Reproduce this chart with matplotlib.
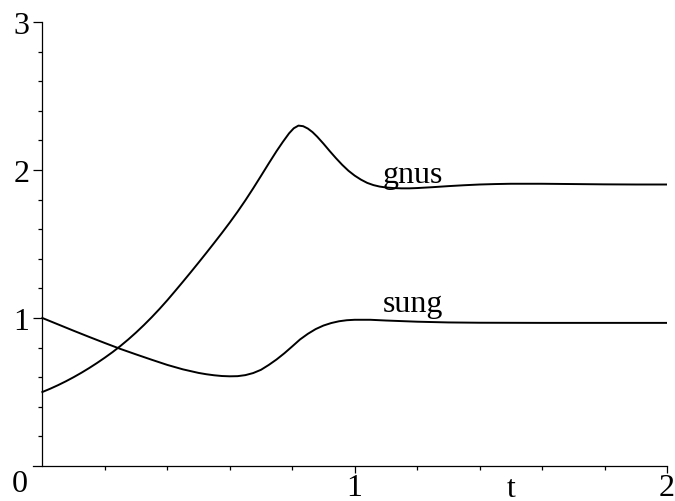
import matplotlib
matplotlib.use("Agg")
import matplotlib.pyplot as plt
from matplotlib.ticker import FixedLocator

# ---- data ----
t_gnus = [0.00, 0.025, 0.05, 0.075, 0.10, 0.125, 0.15, 0.175, 0.20, 0.225, 0.25, 0.275,
          0.30, 0.325, 0.35, 0.375, 0.40, 0.425, 0.45, 0.475, 0.50, 0.525, 0.55, 0.575,
          0.60, 0.625, 0.65, 0.675, 0.70, 0.725, 0.75, 0.77, 0.79, 0.805, 0.82, 0.835,
          0.85, 0.865, 0.88, 0.90, 0.92, 0.94, 0.96, 0.98, 1.00, 1.02, 1.04, 1.06,
          1.08, 1.10, 1.125, 1.15, 1.175, 1.20, 1.25, 1.30, 1.35, 1.40, 1.45, 1.50,
          1.60, 1.70, 1.80, 1.90, 2.00]
gnus = [0.500, 0.522, 0.546, 0.572, 0.600, 0.630, 0.662, 0.696, 0.732, 0.770, 0.811, 0.855,
        0.902, 0.952, 1.005, 1.061, 1.120, 1.182, 1.245, 1.309, 1.374, 1.440, 1.507, 1.575,
        1.645, 1.718, 1.795, 1.876, 1.960, 2.045, 2.128, 2.190, 2.248, 2.282, 2.300, 2.296,
        2.280, 2.256, 2.225, 2.178, 2.128, 2.080, 2.035, 1.995, 1.962, 1.935, 1.913, 1.898,
        1.888, 1.882, 1.878, 1.876, 1.876, 1.878, 1.884, 1.891, 1.897, 1.902, 1.905, 1.907,
        1.907, 1.905, 1.903, 1.902, 1.902]

t_sung = [0.00, 0.05, 0.10, 0.15, 0.20, 0.25, 0.30, 0.35, 0.40, 0.45, 0.50, 0.525,
          0.55, 0.575, 0.60, 0.625, 0.65, 0.675, 0.70, 0.725, 0.75, 0.775, 0.80, 0.825,
          0.85, 0.875, 0.90, 0.925, 0.95, 0.975, 1.00, 1.05, 1.10, 1.15, 1.20, 1.30,
          1.40, 1.60, 1.80, 2.00]
sung = [1.000, 0.957, 0.914, 0.872, 0.831, 0.791, 0.754, 0.718, 0.683, 0.653, 0.629, 0.620,
        0.613, 0.608, 0.606, 0.607, 0.614, 0.628, 0.650, 0.683, 0.720, 0.762, 0.808, 0.855,
        0.893, 0.925, 0.949, 0.966, 0.978, 0.985, 0.988, 0.988, 0.983, 0.979, 0.975, 0.970,
        0.968, 0.967, 0.967, 0.967]

curve_labels = ["gnus", "sung"]
label_pos = [(1.09, 1.92), (1.09, 1.05)]
x_major = [1, 2]
y_major = [1, 2, 3]
x_label = "t"

# ---- figure ----
plt.rcParams['font.family'] = ['Liberation Serif', 'DejaVu Serif']
W, H = 675, 502
fig = plt.figure(figsize=(W / 100, H / 100), dpi=100)
ax = fig.add_axes([33 / W, (H - 467) / H, (667 - 33) / W, (467 - 23) / H])

ax.plot(t_gnus, gnus, color='black', lw=1.4, solid_joinstyle='round')
ax.plot(t_sung, sung, color='black', lw=1.4, solid_joinstyle='round')

for txt, (x, y) in zip(curve_labels, label_pos):
    ax.text(x, y, txt, fontsize=23, ha='left', va='baseline')

ax.set_xlim(-0.03, 2.0)
ax.set_ylim(0, 3)

for s in ['top', 'right']:
    ax.spines[s].set_visible(False)
ax.spines['left'].set_position(('data', 0))
ax.spines['left'].set_linewidth(0.9)
ax.spines['bottom'].set_linewidth(0.9)

ax.xaxis.set_major_locator(FixedLocator(x_major))
ax.xaxis.set_minor_locator(FixedLocator([0.2, 0.4, 0.6, 0.8, 1.2, 1.4, 1.6, 1.8]))
ax.yaxis.set_major_locator(FixedLocator(y_major))
ax.yaxis.set_minor_locator(FixedLocator([0.2, 0.4, 0.6, 0.8, 1.2, 1.4, 1.6, 1.8,
                                         2.2, 2.4, 2.6, 2.8]))
ax.set_xticklabels([str(v) for v in x_major])
ax.set_yticklabels([str(v) for v in y_major])

ax.tick_params(axis='x', which='major', direction='out', length=5, width=0.9,
               labelsize=23, pad=0)
ax.tick_params(axis='x', which='minor', direction='out', length=3, width=0.9)
ax.tick_params(axis='y', which='major', direction='out', length=6.5, width=0.9,
               labelsize=23, pad=3)
ax.tick_params(axis='y', which='minor', direction='out', length=3, width=0.9)

# origin label and axis label
ax.annotate("0", xy=(0, 0), xytext=(-23, -3), textcoords='offset pixels',
            fontsize=23, ha='center', va='top')
ax.annotate(x_label, xy=(1.5, 0), xytext=(0, -8), textcoords='offset pixels',
            fontsize=23, ha='center', va='top')

fig.savefig("out.png", dpi=100)
